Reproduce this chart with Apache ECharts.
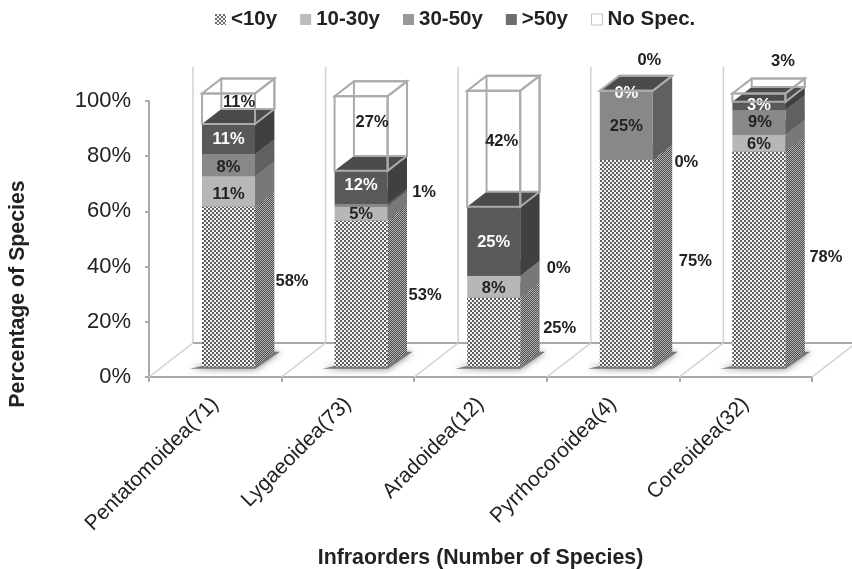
<!DOCTYPE html>
<html>
<head>
<meta charset="utf-8">
<style>html,body{margin:0;padding:0;background:#fff}#chart{width:852px;height:569px}</style>
<script src="https://cdn.jsdelivr.net/npm/echarts@6/dist/echarts.min.js"></script>
</head>
<body>
<div id="chart"></div>
<script>
// Age-of-record shares per infraorder, in percent of species
const infraorders = ['Pentatomoidea(71)', 'Lygaeoidea(73)', 'Aradoidea(12)', 'Pyrrhocoroidea(4)', 'Coreoidea(32)'];
const under10 = [58, 53, 25, 75, 78];
const from10to30 = [11, 5, 8, 0, 6];
const from30to50 = [8, 1, 0, 25, 9];
const over50 = [11, 12, 25, 0, 3];
const noSpec = [11, 27, 42, 0, 3];

// Value-label displacement from the middle of each segment's front face, in pixels
const labelDx = [
  [63.5, 64, 66, 69, 67],
  [0, 0, 0, 60, 0],
  [0, 63, 65, 0, 1],
  [0, 0, 0, 0, 0],
  [10.5, 11, 8, 23, 24]
];
const labelDy = [
  [-5.5, 1.5, -4, -2, -2],
  [2.5, 0.5, 1.5, 2.5, 1.5],
  [2, -13, -7.5, 1.5, -0.5],
  [0.5, -2, 1.5, 2.5, -0.5],
  [-6.5, -11.5, -7.5, -30.5, -36.5]
];

// Oblique projection of the plot box: how far the floor recedes, and where bars sit in it
const FLOOR_DX = 44, FLOOR_DY = 34, BAR_FRONT = 0.3, BAR_BACK = 0.74, BAR_SHARE = 0.4;
const SANS = '"Liberation Sans", Arial, sans-serif';

function tile(size, paint) {
  const c = document.createElement('canvas');
  c.width = c.height = size;
  paint(c.getContext('2d'));
  return { image: c, repeat: 'repeat' };
}
function checker(dark, light) {
  return tile(4, g => {
    g.fillStyle = light; g.fillRect(0, 0, 4, 4);
    g.fillStyle = dark; g.fillRect(0, 0, 2, 2); g.fillRect(2, 2, 2, 2);
  });
}
function slanted(dark, light) {
  return tile(4, g => {
    g.fillStyle = dark; g.fillRect(0, 0, 4, 4);
    g.fillStyle = light;
    for (let i = 0; i < 4; i++) g.fillRect(i, (4 - i) % 4, 1, 1);
    for (let i = 0; i < 4; i++) g.fillRect(i, (6 - i) % 4, 1, 1);
  });
}

const classes = [
  { name: '<10y', values: under10, front: checker('#5c5c5e', '#f6f6f6'), side: slanted('#4a4a4c', '#b4b4b4'), top: '#58585a', key: '#8a8a8a', ink: '#222' },
  { name: '10-30y', values: from10to30, front: '#b6b7b9', side: '#77787a', top: '#88898b', key: '#bcbdc0', ink: '#222' },
  { name: '30-50y', values: from30to50, front: '#87888a', side: '#5f6062', top: '#6c6d6f', key: '#98999b', ink: '#222' },
  { name: '>50y', values: over50, front: '#58595b', side: '#3f4042', top: '#4a4b4d', key: '#6d6e70', ink: '#fff' },
  { name: 'No Spec.', values: noSpec, front: null, side: null, top: null, key: '#fff', ink: '#222' }
];
classes[0].key = checker('#6a6a6c', '#f4f4f4');

const poly = (points, style, z2) => ({ type: 'polygon', shape: { points }, style, z2 });

function segmentItem(cls, classIndex) {
  return function (params, api) {
    const cat = api.value(0);
    const base = api.coord([cat, api.value(1)]);
    const top = api.coord([cat, api.value(2)]);
    const band = api.size([1, 0])[0];
    const w = band * BAR_SHARE;
    const x0 = base[0] + FLOOR_DX * BAR_FRONT - w / 2;
    const x1 = x0 + w;
    const lift = FLOOR_DY * BAR_FRONT;
    const yb = base[1] - lift, yt = top[1] - lift;
    const dx = FLOOR_DX * (BAR_BACK - BAR_FRONT), dy = FLOOR_DY * (BAR_BACK - BAR_FRONT);
    const children = [];
    if (cls.front) {
      if (yb - yt > 0) {
        children.push(poly([[x1, yb], [x1 + dx, yb - dy], [x1 + dx, yt - dy], [x1, yt]], { fill: cls.side }));
        children.push(poly([[x0, yb], [x1, yb], [x1, yt], [x0, yt]], { fill: cls.front }));
      }
      children.push(poly([[x0, yt], [x1, yt], [x1 + dx, yt - dy], [x0 + dx, yt - dy]], { fill: cls.top }));
    } else {
      // The unspecified share stays hollow, so the far edges of the box show through
      const edge = { fill: 'none', stroke: '#ababad', lineWidth: 2 };
      children.push(poly([[x0 + dx, yb - dy], [x1 + dx, yb - dy], [x1 + dx, yt - dy], [x0 + dx, yt - dy]], edge));
      children.push(poly([[x0, yt], [x1, yt], [x1 + dx, yt - dy], [x0 + dx, yt - dy]], edge));
      children.push(poly([[x1, yb], [x1 + dx, yb - dy], [x1 + dx, yt - dy], [x1, yt]], edge));
      children.push(poly([[x0, yb], [x1, yb], [x1, yt], [x0, yt]], edge));
    }
    children.push({
      type: 'text',
      z2: 50,
      style: {
        x: (x0 + x1) / 2 + labelDx[classIndex][cat],
        y: (yb + yt) / 2 + labelDy[classIndex][cat],
        text: api.value(3) + '%',
        fill: cls.ink,
        font: 'bold 16.5px ' + SANS,
        align: 'center',
        verticalAlign: 'middle'
      }
    });
    return { type: 'group', children };
  };
}

// Running totals so each segment knows where it starts and ends on the value axis
const running = infraorders.map(() => 0);
const segmentSeries = classes.map((cls, i) => ({
  type: 'custom',
  name: cls.name,
  clip: false,
  z: 3 + i,
  coordinateSystem: 'cartesian2d',
  encode: { x: 0, y: 2 },
  renderItem: segmentItem(cls, i),
  data: cls.values.map((v, c) => {
    const start = running[c];
    running[c] += v;
    return [c, start, running[c], v];
  })
}));

// Back wall, floor lines and the soft shadow under each bar
const stageSeries = {
  type: 'custom',
  name: 'stage',
  clip: false,
  silent: true,
  z: 1,
  coordinateSystem: 'cartesian2d',
  encode: { x: 0, y: 1 },
  renderItem(params, api) {
    const cat = api.value(0);
    const o = api.coord([cat, 0]);
    const high = api.coord([cat, 100]);
    const band = api.size([1, 0])[0];
    const left = o[0] - band / 2, right = o[0] + band / 2;
    const wallLine = { stroke: '#cfd0d2', lineWidth: 1.5 };
    const line = (x1, y1, x2, y2, style) => ({ type: 'line', shape: { x1, y1, x2, y2 }, style });
    const w = band * BAR_SHARE;
    const fx0 = o[0] + FLOOR_DX * BAR_FRONT - w / 2, fx1 = fx0 + w;
    const fy = o[1] - FLOOR_DY * BAR_FRONT;
    const kids = [
      line(left + FLOOR_DX, o[1] - FLOOR_DY, left + FLOOR_DX, high[1] - FLOOR_DY, wallLine),
      line(left + FLOOR_DX, o[1] - FLOOR_DY, right + FLOOR_DX, o[1] - FLOOR_DY, { stroke: '#a9aaac', lineWidth: 2 }),
      line(left, o[1], left + FLOOR_DX, o[1] - FLOOR_DY, wallLine),
      {
        type: 'polygon',
        shape: { points: [[fx0 - 12, fy + 2], [fx1, fy + 2], [fx1 + 25, fy - 15], [fx1 + 10, fy - 15]] },
        style: { fill: '#77787a', shadowBlur: 7, shadowColor: '#77787a' }
      }
    ];
    if (cat === infraorders.length - 1) {
      kids.push(line(right, o[1], right + FLOOR_DX, o[1] - FLOOR_DY, wallLine));
    }
    return { type: 'group', children: kids };
  },
  data: infraorders.map((_, c) => [c, 0])
};

const chart = echarts.init(document.getElementById('chart'), null, { renderer: 'canvas' });
chart.setOption({
  animation: false,
  backgroundColor: '#fff',
  grid: { left: 149, right: 40, top: 101, height: 276, outerBoundsMode: 'none' },
  legend: {
    top: 4,
    left: 210,
    icon: 'rect',
    itemWidth: 11,
    itemHeight: 11,
    itemGap: 23,
    selectedMode: false,
    textStyle: { fontFamily: SANS, fontWeight: 'bold', fontSize: 20.5, color: '#222' },
    data: classes.map(c => ({
      name: c.name,
      itemStyle: { color: c.key, borderColor: c.front ? 'transparent' : '#c4c4c6', borderWidth: c.front ? 0 : 1 }
    }))
  },
  xAxis: {
    type: 'category',
    data: infraorders,
    boundaryGap: true,
    name: 'Infraorders (Number of Species)',
    nameLocation: 'middle',
    nameGap: 171,
    nameTextStyle: { fontFamily: SANS, fontWeight: 'bold', fontSize: 21.3, color: '#222' },
    axisLine: { lineStyle: { color: '#a9aaac', width: 2 } },
    axisTick: { show: true, alignWithLabel: false, length: 5, lineStyle: { color: '#a9aaac', width: 2 } },
    axisLabel: { interval: 0, rotate: 45, margin: 24, fontFamily: SANS, fontSize: 21, color: '#222' }
  },
  yAxis: {
    type: 'value',
    min: 0,
    max: 100,
    interval: 20,
    name: 'Percentage of Species',
    nameLocation: 'middle',
    nameGap: 120,
    nameTextStyle: { fontFamily: SANS, fontWeight: 'bold', fontSize: 21.3, color: '#222', padding: [0, 110, 0, 0] },
    axisLine: { show: true, lineStyle: { color: '#a9aaac', width: 2 } },
    axisTick: { show: true, length: 4, lineStyle: { color: '#a9aaac', width: 2 } },
    splitLine: { show: false },
    axisLabel: { formatter: '{value}%', margin: 18, padding: [3, 0, 0, 0], fontFamily: SANS, fontSize: 22, color: '#222' }
  },
  series: [stageSeries].concat(segmentSeries)
});
</script>
</body>
</html>
